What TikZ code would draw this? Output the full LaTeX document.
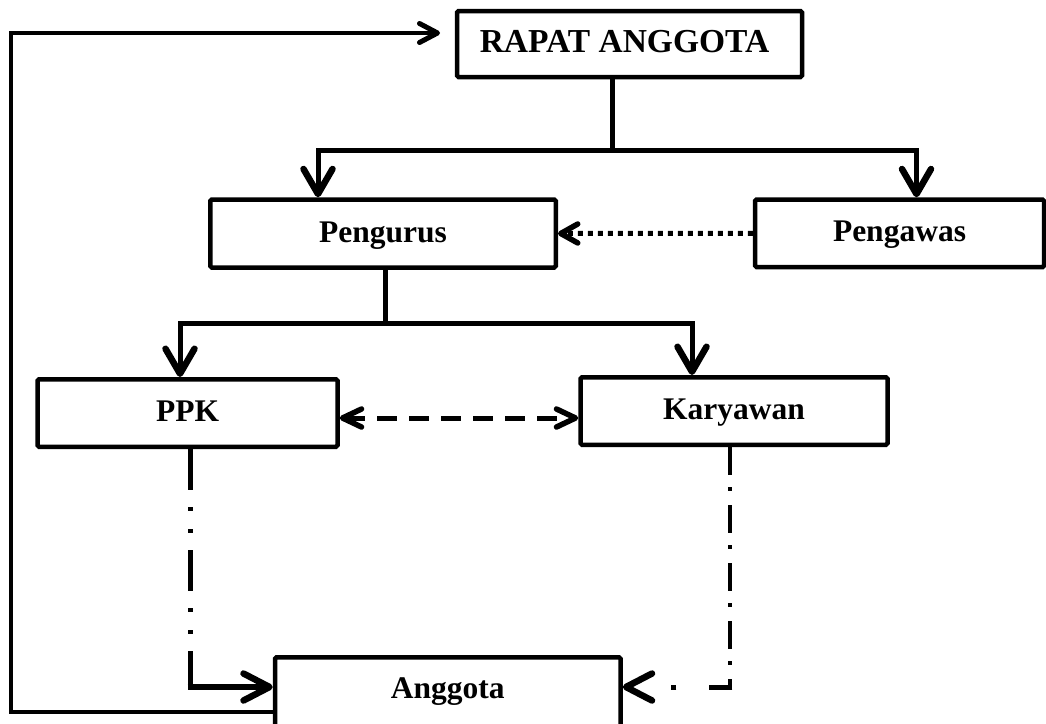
\documentclass[tikz,border=0pt]{standalone}
\usepackage{fontspec}
\setmainfont{Liberation Serif}
\usetikzlibrary{arrows.meta}
\begin{document}
\begin{tikzpicture}[x=1pt,y=-1pt,
  box/.style={draw, line width=4.5pt, rounded corners=1.5pt, inner sep=0pt,
    font=\fontsize{31.5}{36}\selectfont\bfseries, text height=21pt, text depth=4pt},
  thickln/.style={line width=5pt},
  dotln/.style={line width=5pt, dash pattern=on 5pt off 5pt},
  dashln/.style={line width=5pt, dash pattern=on 20pt off 12pt},
  ddone/.style={line width=4.5pt, dash pattern=on 41pt off 17pt on 4pt off 18pt on 4pt off 17pt},
  ddtwo/.style={line width=4.5pt, dash pattern=on 28pt off 12pt on 4pt off 14pt},
  ddtwoh/.style={line width=5pt, dash pattern=on 23pt off 33pt on 5pt off 80pt},
  fbln/.style={line width=4pt},
  bigarr/.style={-{Straight Barb[length=25pt,width=29pt,line width=6.5pt,round]}},
  anarr/.style={-{Straight Barb[length=26pt,width=27pt,line width=6.5pt,round]}},
  smallarr/.style={-{Straight Barb[length=18pt,width=19pt,line width=5pt,round]}},
  dotarr/.style={-{Straight Barb[length=17pt,width=19pt,line width=5.5pt,round]}},
  dasharr/.style={{Straight Barb[length=19pt,width=18pt,line width=5.5pt,round]}-{Straight Barb[length=19pt,width=18pt,line width=5.5pt,round]}}
]
\useasboundingbox[fill=white] (0,0) rectangle (1046,723);

\node[box, minimum width=345pt, minimum height=66pt, font=\fontsize{33.5}{38}\selectfont\bfseries] (rapat) at (629.5,44) {\hspace*{-10pt}RAPAT ANGGOTA};
\node[box, minimum width=345.5pt, minimum height=68pt] (pengurus) at (383,233.5) {Pengurus};
\node[box, minimum width=289pt, minimum height=67.5pt] (pengawas) at (899.5,233.3) {Pengawas};
\node[box, minimum width=300pt, minimum height=67.5pt] (ppk) at (187.5,413) {PPK};
\node[box, minimum width=307pt, minimum height=67.5pt] (karyawan) at (734,411) {Karyawan};
\node[box, minimum width=345.5pt, minimum height=69.5pt, text depth=8pt] (anggota) at (447.75,692) {Anggota};

% from Rapat Anggota
\draw[thickln] ([xshift=-17.5pt]rapat.south) -- ++(0,71) coordinate (j1);
\draw[thickln, bigarr] (j1) -| ([xshift=-65pt]pengurus.north);
\draw[thickln, bigarr] (j1) -| ([xshift=17pt]pengawas.north);

% from Pengurus
\draw[thickln] ([xshift=2pt]pengurus.south) -- ++(0,54) coordinate (j2);
\draw[thickln, bigarr] (j2) -| ([xshift=-7.5pt]ppk.north);
\draw[thickln, bigarr] (j2) -| ([xshift=-42pt]karyawan.north);

% Pengawas -> Pengurus
\draw[dotln, dotarr] (pengawas.west) -- (pengurus.east);

% PPK <-> Karyawan
\draw[dashln, dasharr] ([yshift=-5pt]ppk.east) -- ([yshift=-5pt]ppk.east -| karyawan.west);

% PPK -> Anggota
\coordinate (p1) at ([xshift=3pt]ppk.south);
\coordinate (a1) at ([yshift=5pt]anggota.west);
\coordinate (c1) at (p1 |- a1);
\draw[ddone] (p1) -- (c1);
\draw[line width=6pt, anarr] ([xshift=-3pt]c1) -- (a1);

% Karyawan -> Anggota
\coordinate (k1) at ([xshift=-4pt]karyawan.south);
\coordinate (a2) at ([yshift=5pt]anggota.east);
\coordinate (c2) at (k1 |- a2);
\draw[ddtwo] (k1) -- (c2);
\draw[ddtwoh, anarr] ([xshift=2.25pt]c2) -- (a2);

% Anggota -> Rapat Anggota (feedback)
\coordinate (fb) at (440,33);
\draw[fbln, smallarr] ([yshift=-20pt]anggota.west) -- ++(-262,0) |- (fb);
\end{tikzpicture}
\end{document}
